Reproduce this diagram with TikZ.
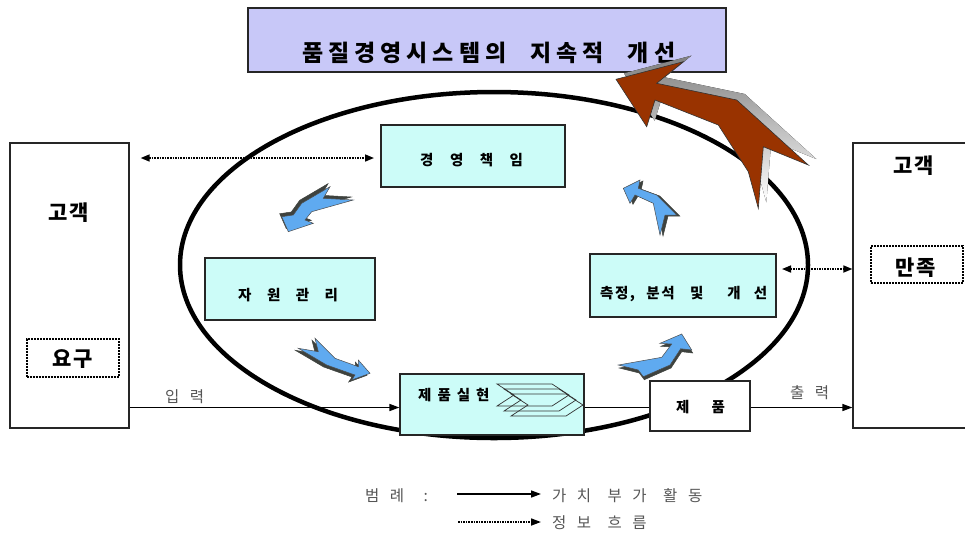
\documentclass[tikz,border=0pt]{standalone}
\usepackage{fontspec}
\usetikzlibrary{arrows.meta,calc}
\newfontfamily\kr{Noto Sans CJK KR}
\definecolor{titlefill}{RGB}{200,200,248}
\definecolor{boxfill}{RGB}{204,252,248}
\definecolor{flowblue}{RGB}{95,170,240}
\definecolor{brownarrow}{RGB}{153,51,0}
\definecolor{shade}{RGB}{62,66,62}
\definecolor{labelgray}{RGB}{85,85,85}
% set a word with a fixed gap after every character
\makeatletter
\def\spr@stop{\spr@stop}
\newcommand\spread[2]{\def\spr@gap{\hspace{#1}}\spr@run#2\spr@stop}
\def\spr@run#1{\ifx#1\spr@stop\else#1\spr@gap\expandafter\spr@run\fi}
\makeatother
% outlines of the block arrows (pixel grid, y downwards)
\newcommand\arrowA{(288.3,231.7) -- (281.7,216.7) -- (293.3,215) -- (301.7,203.3) -- (330,186.7) -- (323.3,198.3) -- (353.3,200) -- (311.7,211.7) -- (305,220) -- (313.3,223.3) -- cycle}
\newcommand\arrowB{(370,373.3) -- (358.3,360) -- (358.3,366.7) -- (335,358.3) -- (315,338.3) -- (318.3,351.7) -- (298.3,348.3) -- (326.7,365) -- (355,375) -- (351.7,380) -- cycle}
\newcommand\arrowC{(681.7,334) -- (691.7,350) -- (680.7,348.7) -- (670,365) -- (643.3,376.7) -- (638.3,370) -- (618.3,365) -- (661.7,357.3) -- (671.7,344) -- (660,343.3) -- cycle}
\newcommand\arrowD{(623.3,188.3) -- (640,180) -- (638.3,188.3) -- (656.7,195) -- (676.7,215) -- (665,215) -- (660,235) -- (653.3,203.3) -- (635,195) -- (630,203.3) -- cycle}
\newcommand\arrowBig{(616,79.3) -- (683.3,61.7) -- (656.7,83.3) -- (736.7,100) -- (808.3,165) -- (763.3,146.7) -- (758.3,208.3) -- (748.3,171.7) -- (718.3,125) -- (655,100) -- (646.7,126.7) -- cycle}
\begin{document}
\begin{tikzpicture}[x=1pt,y=-1pt,
  box/.style={draw=black!85, line width=1.2pt, fill=boxfill, inner sep=0pt},
  custbox/.style={draw=black!85, line width=1.3pt, fill=white, inner sep=0pt},
  dotbox/.style={draw=black, line width=2pt, densely dotted, inner sep=0pt},
  lbl/.style={inner sep=0pt, anchor=west, font=\kr\bfseries\fontsize{14.5}{14.5}\selectfont},
  biglbl/.style={inner sep=0pt, anchor=west, font=\kr\bfseries\fontsize{21}{21}\selectfont},
  thinlbl/.style={inner sep=0pt, anchor=west, text=labelgray, font=\kr\fontsize{15.5}{15.5}\selectfont},
  value/.style={line width=1.5pt, -{Triangle[length=10pt,width=7pt]}},
  info/.style={line width=1.6pt, densely dotted, {Triangle[length=9pt,width=7pt]}-{Triangle[length=9pt,width=7pt]}},
  infoone/.style={line width=1.6pt, densely dotted, -{Triangle[length=10pt,width=7pt]}},
  blueflow/.style={fill=flowblue, draw=black!70, line width=0.5pt},
  blueshade/.style={fill=shade, draw=shade, line width=0.5pt},
  chev/.style={draw=black!80, line width=0.7pt}
]
\useasboundingbox (0,0) rectangle (965,539);

% title
\node[draw=black!85, line width=1.2pt, fill=titlefill, minimum width=478pt, minimum height=64pt, inner sep=0pt] (title) at (487,40) {};
\node[inner sep=0pt, anchor=west, font=\kr\bfseries\fontsize{23}{23}\selectfont] (titletext) at (302,53)
  {\spread{5pt}{품질경영시스템의}\hspace{19pt}\spread{5pt}{지속적}\hspace{19pt}\spread{5pt}{개선}};

% process cycle
\draw[line width=4.5pt] (494,265) ellipse [x radius=314pt, y radius=173pt];

% customers
\node[custbox, minimum width=119pt, minimum height=285pt] (cl) at (69.5,285.5) {};
\node[biglbl] (cltext) at (48,213) {\spread{2pt}{고객}};
\node[dotbox, minimum width=92pt, minimum height=38pt] (req) at (72.5,357.5) {};
\node[biglbl] (reqtext) at (52,359) {\spread{2pt}{요구}};
\node[custbox, minimum width=130pt, minimum height=285pt] (cr) at (918,285.5) {};
\node[biglbl] (crtext) at (893,166) {\spread{2pt}{고객}};
\node[dotbox, minimum width=92pt, minimum height=37pt] (sat) at (917,264.5) {};
\node[biglbl] (sattext) at (895,267.5) {\spread{2pt}{만족}};

% process boxes
\node[box, minimum width=184pt, minimum height=62pt] (mgmt) at (473,156) {};
\node[lbl] (mgmttext) at (420,160) {\spread{16.5pt}{경영책임}};
\node[box, minimum width=170pt, minimum height=62pt] (res) at (290,289) {};
\node[lbl] (restext) at (238,295) {\spread{15.5pt}{자원관리}};
\node[box, minimum width=186pt, minimum height=63pt] (meas) at (683,285.5) {};
\node[lbl] (meastext) at (600,294)
  {\spread{1.5pt}{측정,}\hspace{10pt}\spread{1.5pt}{분석}\hspace{14pt}및\hspace{24pt}개\hspace{13pt}선};
\node[box, minimum width=184pt, minimum height=61pt] (real) at (492,404.5) {};
\node[lbl] (realtext) at (418,395.5) {\spread{6pt}{제품실현}};
\node[draw=black!85, line width=1.2pt, fill=white, minimum width=100pt, minimum height=50pt, inner sep=0pt] (prod) at (700,406) {};
\node[lbl] (prodtext) at (676,407) {제\hspace{22pt}품};

% stacked chevrons inside the realisation box
\foreach \dx/\dy in {0/0,7/5,14/10}
  \draw[chev, shift={(\dx,\dy)}] (497,384) -- (552,384) -- (569,395) -- (552,406) -- (497,406) -- (514,395) -- cycle;

% information flows
\coordinate (infoL) at (381,158);
\draw[info, shorten <=11pt, shorten >=7pt] (cl.east |- infoL) -- (infoL);
\coordinate (infoR) at (776,269);
\draw[info, shorten <=6pt] (infoR) -- (cr.west |- infoR);

% value-adding flow
\coordinate (flow) at (0,407.5);
\draw[value] (cl.east |- flow) -- (real.west |- flow);
\draw[line width=1.5pt] (real.east |- flow) -- (prod.west |- flow);
\draw[value] (prod.east |- flow) -- (cr.west |- flow);
\node[thinlbl] (intext) at (165,397) {\spread{10.5pt}{입력}};
\node[thinlbl] (outtext) at (790,392.5) {\spread{10.5pt}{출력}};

% cycle arrows
\fill[blueshade, shift={(-2,-3)}] \arrowA;
\filldraw[blueflow] \arrowA;
\fill[blueshade, shift={(-3,2)}] \arrowB;
\filldraw[blueflow] \arrowB;
\fill[blueshade, shift={(1,3)}] \arrowC;
\filldraw[blueflow] \arrowC;
\fill[blueshade, shift={(3,1)}] \arrowD;
\filldraw[blueflow] \arrowD;

% continual improvement arrow
\fill[shade, shift={(8,-6)}] \arrowBig;
\filldraw[fill=brownarrow, draw=black!80, line width=0.6pt] \arrowBig;

% legend
\node[thinlbl] (legtitle) at (365,496) {\spread{10.5pt}{범례}\hspace{9pt}:};
\node[thinlbl] (legval) at (552,496) {\spread{10.5pt}{가치}\hspace{6pt}\spread{10.5pt}{부가}\hspace{6pt}\spread{10.5pt}{활동}};
\node[thinlbl] (leginfo) at (552,523) {\spread{10.5pt}{정보}\hspace{6pt}\spread{10.5pt}{흐름}};
\coordinate (legA) at (457,494);
\coordinate (legB) at (458,522);
\draw[value, shorten >=11pt] (legA) -- (legval.west |- legA);
\draw[infoone, shorten >=11pt] (legB) -- (leginfo.west |- legB);
\end{tikzpicture}
\end{document}
